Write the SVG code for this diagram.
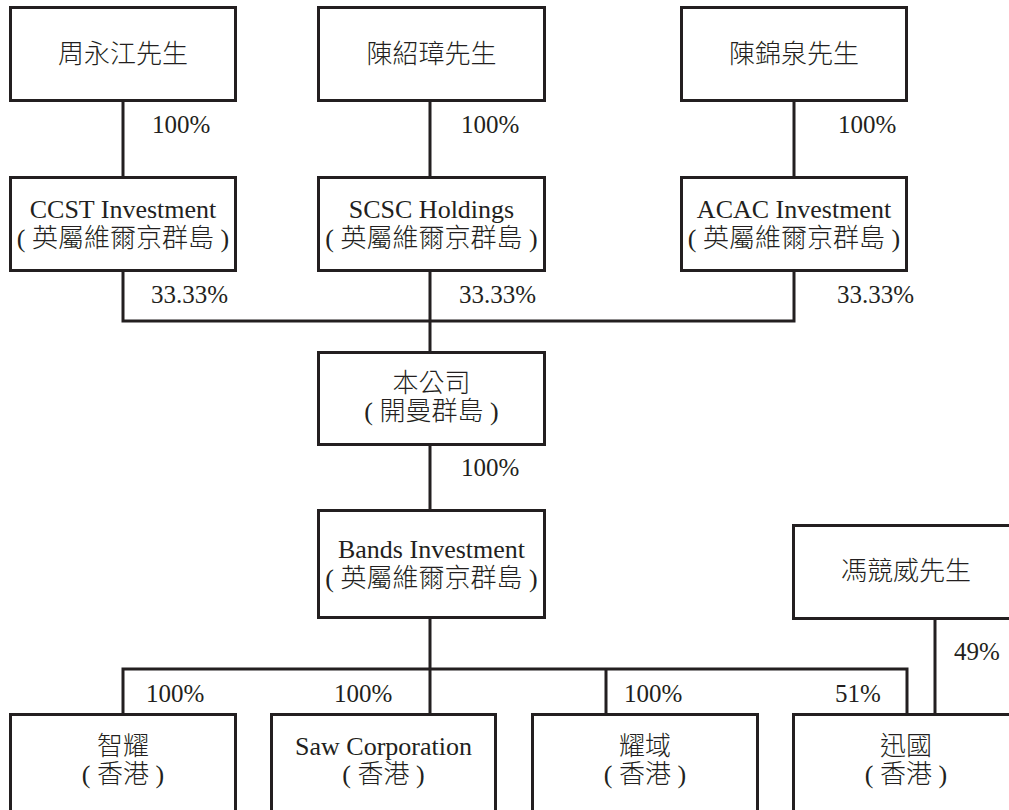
<svg xmlns="http://www.w3.org/2000/svg" width="1009" height="810" viewBox="0 0 1009 810">
<style>
.box{fill:#fff;stroke:#231f20;stroke-width:3}
.ln{fill:none;stroke:#231f20;stroke-width:3}
.t{font-family:"Liberation Serif","Noto Sans CJK TC",serif;font-size:26px;font-weight:300;fill:#231f20;text-anchor:middle}
.p{font-family:"Liberation Serif",serif;font-size:25px;fill:#231f20}
</style>
<rect width="1009" height="810" fill="#fff"/>
<g id="connectors">
<path class="ln" d="M123 100.5V177.5M430 100.5V177.5M794 100.5V177.5"/>
<path class="ln" d="M123 270.5V321H794V270.5M430 270.5V352.5"/>
<path class="ln" d="M430 444.5V510.5M430 617.5V714.5"/>
<path class="ln" d="M123 714.5V669H907V714.5M606 669V714.5M935 618.5V714.5"/>
<text class="p" x="152" y="133">100%</text>
<text class="p" x="461" y="133">100%</text>
<text class="p" x="838" y="133">100%</text>
<text class="p" x="151" y="303">33.33%</text>
<text class="p" x="459" y="303">33.33%</text>
<text class="p" x="837" y="303">33.33%</text>
<text class="p" x="461" y="476">100%</text>
<text class="p" x="146" y="702">100%</text>
<text class="p" x="334" y="702">100%</text>
<text class="p" x="624" y="702">100%</text>
<text class="p" x="835" y="702">51%</text>
<text class="p" x="954" y="660">49%</text>
</g>
<g id="n_zhou"><rect class="box" x="10.5" y="7.5" width="225" height="93"/><text class="t" x="123" y="63">周永江先生</text></g>
<g id="n_chen1"><rect class="box" x="318.5" y="7.5" width="226" height="93"/><text class="t" x="431.5" y="63">陳紹璋先生</text></g>
<g id="n_chen2"><rect class="box" x="681.5" y="7.5" width="225" height="93"/><text class="t" x="794" y="63">陳錦泉先生</text></g>
<g id="n_ccst"><rect class="box" x="10.5" y="177.5" width="225" height="93"/><text class="t" x="123" y="218">CCST Investment</text><text class="t" x="123" y="247">( 英屬維爾京群島 )</text></g>
<g id="n_scsc"><rect class="box" x="318.5" y="177.5" width="226" height="93"/><text class="t" x="431.5" y="218">SCSC Holdings</text><text class="t" x="431.5" y="247">( 英屬維爾京群島 )</text></g>
<g id="n_acac"><rect class="box" x="681.5" y="177.5" width="225" height="93"/><text class="t" x="794" y="218">ACAC Investment</text><text class="t" x="794" y="247">( 英屬維爾京群島 )</text></g>
<g id="n_company"><rect class="box" x="318.5" y="352.5" width="226" height="92"/><text class="t" x="431.5" y="392">本公司</text><text class="t" x="431.5" y="420">( 開曼群島 )</text></g>
<g id="n_bands"><rect class="box" x="318.5" y="510.5" width="226" height="107"/><text class="t" x="431.5" y="558">Bands Investment</text><text class="t" x="431.5" y="587">( 英屬維爾京群島 )</text></g>
<g id="n_feng"><rect class="box" x="793.5" y="525.5" width="226" height="93"/><text class="t" x="906" y="580">馮競威先生</text></g>
<g id="n_zhiyao"><rect class="box" x="10.5" y="714.5" width="225" height="100"/><text class="t" x="123" y="755">智耀</text><text class="t" x="123" y="783">( 香港 )</text></g>
<g id="n_saw"><rect class="box" x="271.5" y="714.5" width="224" height="100"/><text class="t" x="383.5" y="755">Saw Corporation</text><text class="t" x="383.5" y="783">( 香港 )</text></g>
<g id="n_yaoyu"><rect class="box" x="532.5" y="714.5" width="225" height="100"/><text class="t" x="645" y="755">耀域</text><text class="t" x="645" y="783">( 香港 )</text></g>
<g id="n_xunguo"><rect class="box" x="793.5" y="714.5" width="226" height="100"/><text class="t" x="906" y="755">迅國</text><text class="t" x="906" y="783">( 香港 )</text></g>
</svg>
